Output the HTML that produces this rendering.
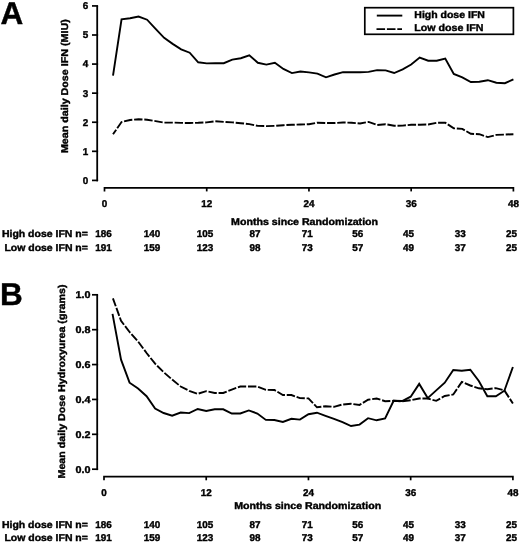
<!DOCTYPE html><html><head><meta charset="utf-8"><style>html,body{margin:0;padding:0;background:#fff;}svg{display:block;filter:blur(0.3px);}</style></head><body>
<svg width="520" height="544" viewBox="0 0 520 544">
<rect width="520" height="544" fill="#fff"/>
<text x="0.5" y="24.0" font-size="31.5" text-anchor="start" font-family="Liberation Sans" font-weight="bold" stroke="#000" stroke-width="0.4" text-rendering="geometricPrecision" fill="#000" >A</text>
<path d="M97.2 5.90 V181.30" stroke="#000" stroke-width="1.8" fill="none"/>
<path d="M92 180.40 H98.1" stroke="#000" stroke-width="1.7" fill="none"/>
<text x="88.3" y="183.8" font-size="9.9" text-anchor="end" font-family="Liberation Sans" font-weight="bold" stroke="#000" stroke-width="0.4" text-rendering="geometricPrecision" fill="#000" >0</text>
<path d="M92 151.32 H98.1" stroke="#000" stroke-width="1.7" fill="none"/>
<text x="88.3" y="154.72" font-size="9.9" text-anchor="end" font-family="Liberation Sans" font-weight="bold" stroke="#000" stroke-width="0.4" text-rendering="geometricPrecision" fill="#000" >1</text>
<path d="M92 122.24 H98.1" stroke="#000" stroke-width="1.7" fill="none"/>
<text x="88.3" y="125.64000000000001" font-size="9.9" text-anchor="end" font-family="Liberation Sans" font-weight="bold" stroke="#000" stroke-width="0.4" text-rendering="geometricPrecision" fill="#000" >2</text>
<path d="M92 93.16 H98.1" stroke="#000" stroke-width="1.7" fill="none"/>
<text x="88.3" y="96.56000000000002" font-size="9.9" text-anchor="end" font-family="Liberation Sans" font-weight="bold" stroke="#000" stroke-width="0.4" text-rendering="geometricPrecision" fill="#000" >3</text>
<path d="M92 64.08 H98.1" stroke="#000" stroke-width="1.7" fill="none"/>
<text x="88.3" y="67.48000000000002" font-size="9.9" text-anchor="end" font-family="Liberation Sans" font-weight="bold" stroke="#000" stroke-width="0.4" text-rendering="geometricPrecision" fill="#000" >4</text>
<path d="M92 35.00 H98.1" stroke="#000" stroke-width="1.7" fill="none"/>
<text x="88.3" y="38.40000000000003" font-size="9.9" text-anchor="end" font-family="Liberation Sans" font-weight="bold" stroke="#000" stroke-width="0.4" text-rendering="geometricPrecision" fill="#000" >5</text>
<path d="M92 5.92 H98.1" stroke="#000" stroke-width="1.7" fill="none"/>
<text x="88.3" y="9.320000000000016" font-size="9.9" text-anchor="end" font-family="Liberation Sans" font-weight="bold" stroke="#000" stroke-width="0.4" text-rendering="geometricPrecision" fill="#000" >6</text>
<text transform="translate(67.6,86.2) rotate(-90)" x="0" y="0" font-size="9.9" text-anchor="middle" font-family="Liberation Sans" font-weight="bold" stroke="#000" stroke-width="0.4" text-rendering="geometricPrecision" textLength="133.8" lengthAdjust="spacingAndGlyphs">Mean daily Dose IFN (MIU)</text>
<g transform="translate(0,0)">
<path d="M104.50 191.40 V187.80 H513.40 V191.40" stroke="#000" stroke-width="1.7" fill="none"/>
<path d="M206.72 187.80 V191.40" stroke="#000" stroke-width="1.7" fill="none"/>
<path d="M308.95 187.80 V191.40" stroke="#000" stroke-width="1.7" fill="none"/>
<path d="M411.17 187.80 V191.40" stroke="#000" stroke-width="1.7" fill="none"/>
<text x="104.50" y="206.9" font-size="9.9" text-anchor="middle" font-family="Liberation Sans" font-weight="bold" stroke="#000" stroke-width="0.4" text-rendering="geometricPrecision" fill="#000" >0</text>
<text x="206.72" y="206.9" font-size="9.9" text-anchor="middle" font-family="Liberation Sans" font-weight="bold" stroke="#000" stroke-width="0.4" text-rendering="geometricPrecision" fill="#000" >12</text>
<text x="308.95" y="206.9" font-size="9.9" text-anchor="middle" font-family="Liberation Sans" font-weight="bold" stroke="#000" stroke-width="0.4" text-rendering="geometricPrecision" fill="#000" >24</text>
<text x="411.17" y="206.9" font-size="9.9" text-anchor="middle" font-family="Liberation Sans" font-weight="bold" stroke="#000" stroke-width="0.4" text-rendering="geometricPrecision" fill="#000" >36</text>
<text x="513.40" y="206.9" font-size="9.9" text-anchor="middle" font-family="Liberation Sans" font-weight="bold" stroke="#000" stroke-width="0.4" text-rendering="geometricPrecision" fill="#000" >48</text>
</g>
<text x="231.1" y="224.9" font-size="9.9" text-anchor="start" font-family="Liberation Sans" font-weight="bold" stroke="#000" stroke-width="0.4" text-rendering="geometricPrecision" fill="#000" textLength="147" lengthAdjust="spacingAndGlyphs">Months since Randomization</text>
<text x="87.9" y="237.2" font-size="9.9" text-anchor="end" font-family="Liberation Sans" font-weight="bold" stroke="#000" stroke-width="0.4" text-rendering="geometricPrecision" fill="#000" textLength="86" lengthAdjust="spacingAndGlyphs">High dose IFN n=</text>
<text x="87.9" y="250.8" font-size="9.9" text-anchor="end" font-family="Liberation Sans" font-weight="bold" stroke="#000" stroke-width="0.4" text-rendering="geometricPrecision" fill="#000" textLength="83.5" lengthAdjust="spacingAndGlyphs">Low dose IFN n=</text>
<text x="103.6" y="237.2" font-size="9.9" text-anchor="middle" font-family="Liberation Sans" font-weight="bold" stroke="#000" stroke-width="0.4" text-rendering="geometricPrecision" fill="#000" >186</text>
<text x="103.6" y="250.8" font-size="9.9" text-anchor="middle" font-family="Liberation Sans" font-weight="bold" stroke="#000" stroke-width="0.4" text-rendering="geometricPrecision" fill="#000" >191</text>
<text x="152.0" y="237.2" font-size="9.9" text-anchor="middle" font-family="Liberation Sans" font-weight="bold" stroke="#000" stroke-width="0.4" text-rendering="geometricPrecision" fill="#000" >140</text>
<text x="152.0" y="250.8" font-size="9.9" text-anchor="middle" font-family="Liberation Sans" font-weight="bold" stroke="#000" stroke-width="0.4" text-rendering="geometricPrecision" fill="#000" >159</text>
<text x="204.9" y="237.2" font-size="9.9" text-anchor="middle" font-family="Liberation Sans" font-weight="bold" stroke="#000" stroke-width="0.4" text-rendering="geometricPrecision" fill="#000" >105</text>
<text x="204.9" y="250.8" font-size="9.9" text-anchor="middle" font-family="Liberation Sans" font-weight="bold" stroke="#000" stroke-width="0.4" text-rendering="geometricPrecision" fill="#000" >123</text>
<text x="255.1" y="237.2" font-size="9.9" text-anchor="middle" font-family="Liberation Sans" font-weight="bold" stroke="#000" stroke-width="0.4" text-rendering="geometricPrecision" fill="#000" >87</text>
<text x="255.1" y="250.8" font-size="9.9" text-anchor="middle" font-family="Liberation Sans" font-weight="bold" stroke="#000" stroke-width="0.4" text-rendering="geometricPrecision" fill="#000" >98</text>
<text x="307.3" y="237.2" font-size="9.9" text-anchor="middle" font-family="Liberation Sans" font-weight="bold" stroke="#000" stroke-width="0.4" text-rendering="geometricPrecision" fill="#000" >71</text>
<text x="307.3" y="250.8" font-size="9.9" text-anchor="middle" font-family="Liberation Sans" font-weight="bold" stroke="#000" stroke-width="0.4" text-rendering="geometricPrecision" fill="#000" >73</text>
<text x="357.7" y="237.2" font-size="9.9" text-anchor="middle" font-family="Liberation Sans" font-weight="bold" stroke="#000" stroke-width="0.4" text-rendering="geometricPrecision" fill="#000" >56</text>
<text x="357.7" y="250.8" font-size="9.9" text-anchor="middle" font-family="Liberation Sans" font-weight="bold" stroke="#000" stroke-width="0.4" text-rendering="geometricPrecision" fill="#000" >57</text>
<text x="408.5" y="237.2" font-size="9.9" text-anchor="middle" font-family="Liberation Sans" font-weight="bold" stroke="#000" stroke-width="0.4" text-rendering="geometricPrecision" fill="#000" >45</text>
<text x="408.5" y="250.8" font-size="9.9" text-anchor="middle" font-family="Liberation Sans" font-weight="bold" stroke="#000" stroke-width="0.4" text-rendering="geometricPrecision" fill="#000" >49</text>
<text x="460.2" y="237.2" font-size="9.9" text-anchor="middle" font-family="Liberation Sans" font-weight="bold" stroke="#000" stroke-width="0.4" text-rendering="geometricPrecision" fill="#000" >33</text>
<text x="460.2" y="250.8" font-size="9.9" text-anchor="middle" font-family="Liberation Sans" font-weight="bold" stroke="#000" stroke-width="0.4" text-rendering="geometricPrecision" fill="#000" >37</text>
<text x="511.4" y="237.2" font-size="9.9" text-anchor="middle" font-family="Liberation Sans" font-weight="bold" stroke="#000" stroke-width="0.4" text-rendering="geometricPrecision" fill="#000" >25</text>
<text x="511.4" y="250.8" font-size="9.9" text-anchor="middle" font-family="Liberation Sans" font-weight="bold" stroke="#000" stroke-width="0.4" text-rendering="geometricPrecision" fill="#000" >25</text>
<g transform="translate(0,0)">
<polyline points="113.02,75.70 121.54,19.40 130.06,18.30 138.57,16.60 147.09,19.70 155.61,28.80 164.13,37.90 172.65,43.90 181.17,49.30 189.69,52.70 198.21,62.30 206.72,63.40 215.24,63.20 223.76,63.20 232.28,59.60 240.80,58.20 249.32,55.40 257.84,62.80 266.36,64.60 274.88,62.80 283.39,68.90 291.91,73.10 300.43,71.50 308.95,72.40 317.47,73.60 325.99,77.30 334.51,74.50 343.02,72.20 351.54,72.20 360.06,72.20 368.58,71.90 377.10,70.10 385.62,70.40 394.14,73.00 402.66,69.30 411.17,64.50 419.69,57.60 428.21,60.70 436.73,60.70 445.25,58.50 453.77,74.00 462.29,77.30 470.81,82.00 479.32,81.70 487.84,80.20 496.36,82.70 504.88,83.20 513.40,79.40" fill="none" stroke="#000" stroke-width="1.9" stroke-linejoin="miter" stroke-miterlimit="3"/>
<polyline points="113.02,134.30 121.54,122.00 130.06,120.00 138.57,119.20 147.09,119.70 155.61,121.10 164.13,122.60 172.65,122.60 181.17,122.90 189.69,123.00 198.21,122.80 206.72,122.40 215.24,121.30 223.76,121.90 232.28,122.40 240.80,123.20 249.32,124.10 257.84,125.90 266.36,126.10 274.88,125.90 283.39,125.20 291.91,124.80 300.43,124.50 308.95,124.20 317.47,122.70 325.99,123.00 334.51,123.00 343.02,122.50 351.54,122.70 360.06,123.50 368.58,121.90 377.10,125.00 385.62,124.20 394.14,125.80 402.66,125.60 411.17,124.80 419.69,124.80 428.21,124.50 436.73,122.80 445.25,122.70 453.77,128.30 462.29,128.90 470.81,133.80 479.32,134.20 487.84,137.10 496.36,134.90 504.88,134.60 513.40,134.20" fill="none" stroke="#000" stroke-width="1.9" stroke-dasharray="8.4 1.8" stroke-dashoffset="2.82" stroke-linejoin="miter" stroke-miterlimit="3"/>
</g>
<rect x="364.8" y="7.7" width="148.6" height="26.6" fill="none" stroke="#000" stroke-width="1.7"/>
<path d="M376.8 15.6 H402.3" stroke="#000" stroke-width="1.9"/>
<path d="M376.5 29.1 H402" stroke="#000" stroke-width="1.9" stroke-dasharray="8.6 1.8"/>
<text x="414.3" y="18.4" font-size="9.9" text-anchor="start" font-family="Liberation Sans" font-weight="bold" stroke="#000" stroke-width="0.4" text-rendering="geometricPrecision" fill="#000" textLength="70.6" lengthAdjust="spacingAndGlyphs">High dose IFN</text>
<text x="414.3" y="31.2" font-size="9.9" text-anchor="start" font-family="Liberation Sans" font-weight="bold" stroke="#000" stroke-width="0.4" text-rendering="geometricPrecision" fill="#000" textLength="69.2" lengthAdjust="spacingAndGlyphs">Low dose IFN</text>
<text x="0.0" y="305.0" font-size="31.5" text-anchor="start" font-family="Liberation Sans" font-weight="bold" stroke="#000" stroke-width="0.4" text-rendering="geometricPrecision" fill="#000" >B</text>
<path d="M97.2 294.80 V470.10" stroke="#000" stroke-width="1.8" fill="none"/>
<path d="M92 469.20 H98.1" stroke="#000" stroke-width="1.7" fill="none"/>
<text x="90.6" y="472.59999999999997" font-size="9.9" text-anchor="end" font-family="Liberation Sans" font-weight="bold" stroke="#000" stroke-width="0.4" text-rendering="geometricPrecision" fill="#000" textLength="15" lengthAdjust="spacingAndGlyphs">0.0</text>
<path d="M92 434.32 H98.1" stroke="#000" stroke-width="1.7" fill="none"/>
<text x="90.6" y="437.71999999999997" font-size="9.9" text-anchor="end" font-family="Liberation Sans" font-weight="bold" stroke="#000" stroke-width="0.4" text-rendering="geometricPrecision" fill="#000" textLength="15" lengthAdjust="spacingAndGlyphs">0.2</text>
<path d="M92 399.44 H98.1" stroke="#000" stroke-width="1.7" fill="none"/>
<text x="90.6" y="402.84" font-size="9.9" text-anchor="end" font-family="Liberation Sans" font-weight="bold" stroke="#000" stroke-width="0.4" text-rendering="geometricPrecision" fill="#000" textLength="15" lengthAdjust="spacingAndGlyphs">0.4</text>
<path d="M92 364.56 H98.1" stroke="#000" stroke-width="1.7" fill="none"/>
<text x="90.6" y="367.9599999999999" font-size="9.9" text-anchor="end" font-family="Liberation Sans" font-weight="bold" stroke="#000" stroke-width="0.4" text-rendering="geometricPrecision" fill="#000" textLength="15" lengthAdjust="spacingAndGlyphs">0.6</text>
<path d="M92 329.68 H98.1" stroke="#000" stroke-width="1.7" fill="none"/>
<text x="90.6" y="333.0799999999999" font-size="9.9" text-anchor="end" font-family="Liberation Sans" font-weight="bold" stroke="#000" stroke-width="0.4" text-rendering="geometricPrecision" fill="#000" textLength="15" lengthAdjust="spacingAndGlyphs">0.8</text>
<path d="M92 294.80 H98.1" stroke="#000" stroke-width="1.7" fill="none"/>
<text x="90.6" y="298.19999999999993" font-size="9.9" text-anchor="end" font-family="Liberation Sans" font-weight="bold" stroke="#000" stroke-width="0.4" text-rendering="geometricPrecision" fill="#000" textLength="15" lengthAdjust="spacingAndGlyphs">1.0</text>
<text transform="translate(65.0,381.5) rotate(-90)" x="0" y="0" font-size="9.9" text-anchor="middle" font-family="Liberation Sans" font-weight="bold" stroke="#000" stroke-width="0.4" text-rendering="geometricPrecision" textLength="194" lengthAdjust="spacingAndGlyphs">Mean daily Dose Hydroxyurea (grams)</text>
<g transform="translate(-0.5,0)">
<path d="M104.50 480.30 V476.70 H513.40 V480.30" stroke="#000" stroke-width="1.7" fill="none"/>
<path d="M206.72 476.70 V480.30" stroke="#000" stroke-width="1.7" fill="none"/>
<path d="M308.95 476.70 V480.30" stroke="#000" stroke-width="1.7" fill="none"/>
<path d="M411.17 476.70 V480.30" stroke="#000" stroke-width="1.7" fill="none"/>
<text x="104.50" y="495.8" font-size="9.9" text-anchor="middle" font-family="Liberation Sans" font-weight="bold" stroke="#000" stroke-width="0.4" text-rendering="geometricPrecision" fill="#000" >0</text>
<text x="206.72" y="495.8" font-size="9.9" text-anchor="middle" font-family="Liberation Sans" font-weight="bold" stroke="#000" stroke-width="0.4" text-rendering="geometricPrecision" fill="#000" >12</text>
<text x="308.95" y="495.8" font-size="9.9" text-anchor="middle" font-family="Liberation Sans" font-weight="bold" stroke="#000" stroke-width="0.4" text-rendering="geometricPrecision" fill="#000" >24</text>
<text x="411.17" y="495.8" font-size="9.9" text-anchor="middle" font-family="Liberation Sans" font-weight="bold" stroke="#000" stroke-width="0.4" text-rendering="geometricPrecision" fill="#000" >36</text>
<text x="513.40" y="495.8" font-size="9.9" text-anchor="middle" font-family="Liberation Sans" font-weight="bold" stroke="#000" stroke-width="0.4" text-rendering="geometricPrecision" fill="#000" >48</text>
</g>
<text x="234.2" y="508.7" font-size="9.9" text-anchor="start" font-family="Liberation Sans" font-weight="bold" stroke="#000" stroke-width="0.4" text-rendering="geometricPrecision" fill="#000" textLength="147" lengthAdjust="spacingAndGlyphs">Months since Randomization</text>
<text x="87.9" y="527.5" font-size="9.9" text-anchor="end" font-family="Liberation Sans" font-weight="bold" stroke="#000" stroke-width="0.4" text-rendering="geometricPrecision" fill="#000" textLength="86" lengthAdjust="spacingAndGlyphs">High dose IFN n=</text>
<text x="87.9" y="541.4" font-size="9.9" text-anchor="end" font-family="Liberation Sans" font-weight="bold" stroke="#000" stroke-width="0.4" text-rendering="geometricPrecision" fill="#000" textLength="83.5" lengthAdjust="spacingAndGlyphs">Low dose IFN n=</text>
<text x="103.6" y="527.5" font-size="9.9" text-anchor="middle" font-family="Liberation Sans" font-weight="bold" stroke="#000" stroke-width="0.4" text-rendering="geometricPrecision" fill="#000" >186</text>
<text x="103.6" y="541.4" font-size="9.9" text-anchor="middle" font-family="Liberation Sans" font-weight="bold" stroke="#000" stroke-width="0.4" text-rendering="geometricPrecision" fill="#000" >191</text>
<text x="152.0" y="527.5" font-size="9.9" text-anchor="middle" font-family="Liberation Sans" font-weight="bold" stroke="#000" stroke-width="0.4" text-rendering="geometricPrecision" fill="#000" >140</text>
<text x="152.0" y="541.4" font-size="9.9" text-anchor="middle" font-family="Liberation Sans" font-weight="bold" stroke="#000" stroke-width="0.4" text-rendering="geometricPrecision" fill="#000" >159</text>
<text x="204.9" y="527.5" font-size="9.9" text-anchor="middle" font-family="Liberation Sans" font-weight="bold" stroke="#000" stroke-width="0.4" text-rendering="geometricPrecision" fill="#000" >105</text>
<text x="204.9" y="541.4" font-size="9.9" text-anchor="middle" font-family="Liberation Sans" font-weight="bold" stroke="#000" stroke-width="0.4" text-rendering="geometricPrecision" fill="#000" >123</text>
<text x="255.1" y="527.5" font-size="9.9" text-anchor="middle" font-family="Liberation Sans" font-weight="bold" stroke="#000" stroke-width="0.4" text-rendering="geometricPrecision" fill="#000" >87</text>
<text x="255.1" y="541.4" font-size="9.9" text-anchor="middle" font-family="Liberation Sans" font-weight="bold" stroke="#000" stroke-width="0.4" text-rendering="geometricPrecision" fill="#000" >98</text>
<text x="307.3" y="527.5" font-size="9.9" text-anchor="middle" font-family="Liberation Sans" font-weight="bold" stroke="#000" stroke-width="0.4" text-rendering="geometricPrecision" fill="#000" >71</text>
<text x="307.3" y="541.4" font-size="9.9" text-anchor="middle" font-family="Liberation Sans" font-weight="bold" stroke="#000" stroke-width="0.4" text-rendering="geometricPrecision" fill="#000" >73</text>
<text x="357.7" y="527.5" font-size="9.9" text-anchor="middle" font-family="Liberation Sans" font-weight="bold" stroke="#000" stroke-width="0.4" text-rendering="geometricPrecision" fill="#000" >56</text>
<text x="357.7" y="541.4" font-size="9.9" text-anchor="middle" font-family="Liberation Sans" font-weight="bold" stroke="#000" stroke-width="0.4" text-rendering="geometricPrecision" fill="#000" >57</text>
<text x="408.5" y="527.5" font-size="9.9" text-anchor="middle" font-family="Liberation Sans" font-weight="bold" stroke="#000" stroke-width="0.4" text-rendering="geometricPrecision" fill="#000" >45</text>
<text x="408.5" y="541.4" font-size="9.9" text-anchor="middle" font-family="Liberation Sans" font-weight="bold" stroke="#000" stroke-width="0.4" text-rendering="geometricPrecision" fill="#000" >49</text>
<text x="460.2" y="527.5" font-size="9.9" text-anchor="middle" font-family="Liberation Sans" font-weight="bold" stroke="#000" stroke-width="0.4" text-rendering="geometricPrecision" fill="#000" >33</text>
<text x="460.2" y="541.4" font-size="9.9" text-anchor="middle" font-family="Liberation Sans" font-weight="bold" stroke="#000" stroke-width="0.4" text-rendering="geometricPrecision" fill="#000" >37</text>
<text x="511.4" y="527.5" font-size="9.9" text-anchor="middle" font-family="Liberation Sans" font-weight="bold" stroke="#000" stroke-width="0.4" text-rendering="geometricPrecision" fill="#000" >25</text>
<text x="511.4" y="541.4" font-size="9.9" text-anchor="middle" font-family="Liberation Sans" font-weight="bold" stroke="#000" stroke-width="0.4" text-rendering="geometricPrecision" fill="#000" >25</text>
<g transform="translate(-0.5,0)">
<polyline points="113.02,313.90 121.54,359.70 130.06,382.70 138.57,388.50 147.09,396.20 155.61,408.50 164.13,413.00 172.65,415.70 181.17,412.50 189.69,413.10 198.21,409.00 206.72,411.00 215.24,409.30 223.76,409.30 232.28,413.50 240.80,413.50 249.32,410.40 257.84,413.50 266.36,419.90 274.88,420.00 283.39,421.90 291.91,418.80 300.43,419.60 308.95,414.20 317.47,412.70 325.99,415.80 334.51,418.80 343.02,422.10 351.54,426.00 360.06,424.60 368.58,418.20 377.10,420.30 385.62,418.50 394.14,400.80 402.66,401.00 411.17,396.70 419.69,383.90 428.21,398.10 436.73,390.40 445.25,382.70 453.77,370.00 462.29,370.70 470.81,369.70 479.32,381.00 487.84,396.20 496.36,396.20 504.88,390.70 513.40,367.00" fill="none" stroke="#000" stroke-width="1.9" stroke-linejoin="miter" stroke-miterlimit="3"/>
<polyline points="113.02,297.20 121.54,320.80 130.06,332.00 138.57,341.50 147.09,353.00 155.61,363.70 164.13,372.20 172.65,379.60 181.17,386.50 189.69,390.80 198.21,393.80 206.72,391.20 215.24,393.00 223.76,393.00 232.28,389.60 240.80,386.50 249.32,386.50 257.84,386.50 266.36,389.90 274.88,390.00 283.39,395.00 291.91,395.00 300.43,398.10 308.95,398.40 317.47,407.30 325.99,406.20 334.51,406.80 343.02,404.50 351.54,403.80 360.06,404.90 368.58,399.70 377.10,398.50 385.62,401.20 394.14,400.80 402.66,401.30 411.17,400.30 419.69,398.50 428.21,398.50 436.73,400.80 445.25,396.00 453.77,394.50 462.29,381.90 470.81,385.50 479.32,388.30 487.84,389.20 496.36,388.10 504.88,390.40 513.40,403.50" fill="none" stroke="#000" stroke-width="1.9" stroke-dasharray="8.4 1.8" stroke-dashoffset="9.0" stroke-linejoin="miter" stroke-miterlimit="3"/>
</g>
</svg></body></html>
